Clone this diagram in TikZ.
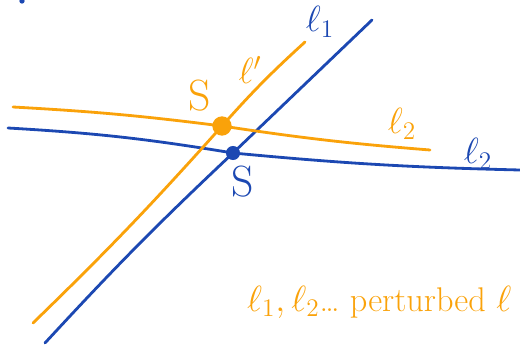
\documentclass[tikz,border=0pt]{standalone}
\usepackage{tikz}
\usetikzlibrary{positioning,calc}
\definecolor{penblue}{RGB}{28,72,178}
\definecolor{penorange}{RGB}{250,162,10}

\begin{document}
\begin{tikzpicture}[
    x=0.02cm, y=-0.02cm,
    bline/.style={penblue, line width=1.6pt, line cap=round},
    oline/.style={penorange, line width=1.6pt, line cap=round},
    pt/.style={circle, fill, inner sep=0pt},
    lab/.style={font=\huge, inner sep=1pt}
]
    \useasboundingbox (0,0) rectangle (520,348);

    % the two original lines and their crossing
    \coordinate (b1s) at (45,343);
    \coordinate (b1e) at (372,20);
    \coordinate (b2s) at (8,128);
    \coordinate (b2e) at (520,170);
    \node[pt, penblue, minimum size=8pt] (sb) at (233,153) {};

    % the perturbed lines and their crossing
    \coordinate (o1s) at (33,323);
    \coordinate (o1e) at (305,42);
    \coordinate (o2s) at (13,107);
    \coordinate (o2e) at (430,150);
    \node[pt, penorange, minimum size=11pt] (so) at (222,126) {};

    \draw[bline] (b1s) to[bend left=2] (sb.center) -- (b1e);
    \draw[bline] (b2s) to[bend left=3] (sb.center) to[bend right=2] (b2e);
    \draw[oline] (o1s) to[bend right=2] (so.center) to[bend left=3] (o1e);
    \draw[oline] (o2s) to[bend left=2] (so.center) to[bend right=2] (o2e);

    \fill[penblue] (22,1) circle (1.5pt);

    \node[lab, penblue] (l1) at (320,22) {$\ell_1$};
    \node[lab, penblue] (l2) at (478,154) {$\ell_2$};
    \node[lab, penblue, font=\Huge] (sbl) at (243,182) {S};
    \node[lab, penorange] (l1p) at (250,70) {$\ell'$};
    \node[lab, penorange] (l2p) at (402,124) {$\ell_2$};
    \node[lab, penorange, font=\Huge] (sol) at (200,96) {S};

    \node[lab, penorange, anchor=west, font=\fontsize{19.5}{23}\selectfont] (note) at (245,302) {$\ell_1,\ell_2$\dots{} perturbed $\ell$};
\end{tikzpicture}
\end{document}
